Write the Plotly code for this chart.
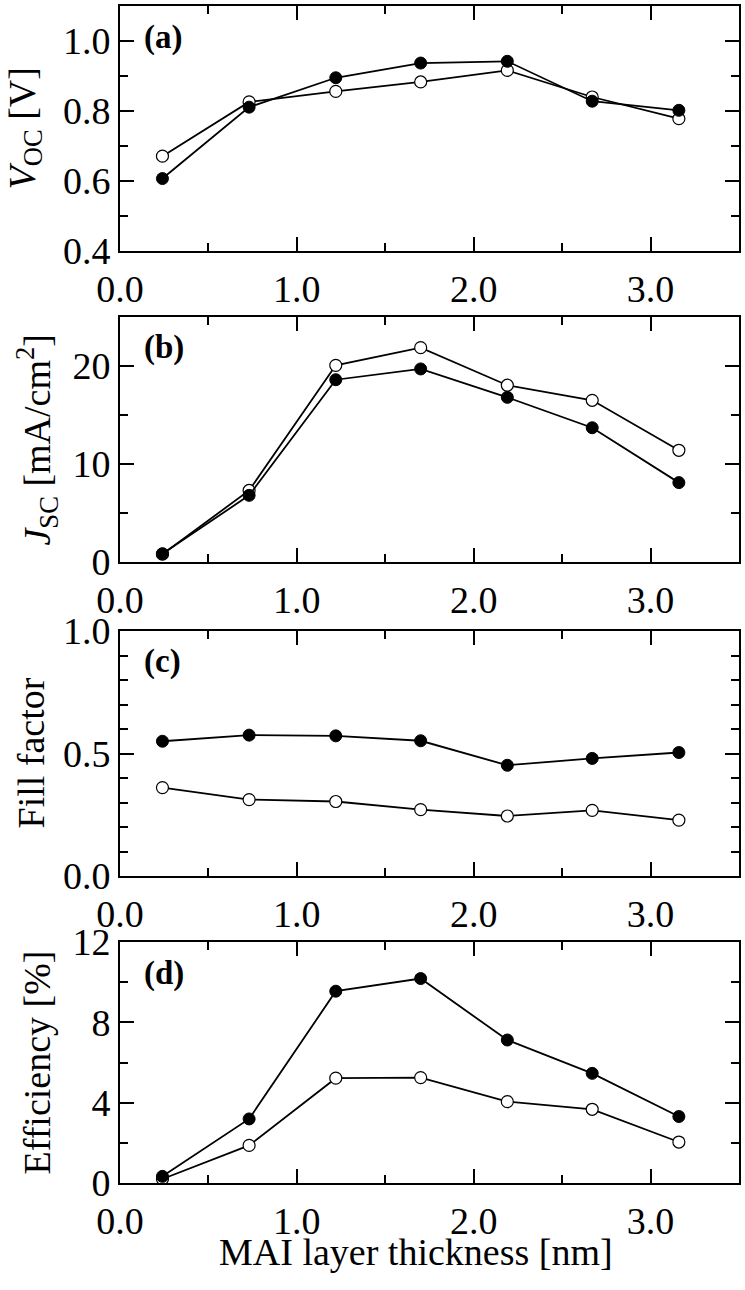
import plotly.graph_objects as go

# ---- data ----
thickness = [0.24, 0.73, 1.22, 1.70, 2.19, 2.67, 3.16]

voc_filled = [0.607, 0.811, 0.895, 0.937, 0.942, 0.828, 0.802]
voc_open = [0.671, 0.826, 0.856, 0.883, 0.916, 0.840, 0.778]

jsc_filled = [0.84, 6.8, 18.6, 19.7, 16.8, 13.7, 8.1]
jsc_open = [0.8, 7.3, 20.07, 21.87, 18.04, 16.5, 11.4]

ff_filled = [0.550, 0.575, 0.572, 0.552, 0.452, 0.480, 0.504]
ff_open = [0.361, 0.312, 0.304, 0.271, 0.245, 0.268, 0.228]

eff_filled = [0.33, 3.19, 9.55, 10.18, 7.12, 5.46, 3.31]
eff_open = [0.20, 1.87, 5.22, 5.25, 4.05, 3.67, 2.04]

panel_labels = ["(a)", "(b)", "(c)", "(d)"]
y_titles = ["<i>V</i><sub>OC</sub> [V]",
            "<i>J</i><sub>SC</sub> [mA/cm<sup>2</sup>]",
            "Fill factor",
            "Efficiency [%]"]
x_title = "MAI layer thickness [nm]"

# ---- layout geometry ----
W, H = 745, 1290
ML, MR, MT, MB = 120, 6, 6, 107
plot_h = H - MT - MB
plot_w = W - ML - MR

def py(pix):
    return (H - MB - pix) / plot_h

def px(pix):
    return (pix - ML) / plot_w

panel_px = [(6, 251), (317, 562), (631, 876), (942, 1183)]
y_ranges = [[0.4, 1.1], [0, 25], [0, 1.0], [0, 12]]
y_dticks = [0.2, 10, 0.5, 4]
y_minor = [0.1, 5, 0.1, 2]
y_tick0 = [0.4, 0, 0, 0]
y_fmt = [".1f", "d", ".1f", "d"]
ytitle_x = [25, 38, 31, 36]

FONT = "Liberation Serif"
fs = 38

series = [(voc_filled, voc_open), (jsc_filled, jsc_open),
          (ff_filled, ff_open), (eff_filled, eff_open)]

fig = go.Figure()
layout = dict(width=W, height=H,
              margin=dict(l=ML, r=MR, t=MT, b=MB, autoexpand=False),
              plot_bgcolor="white", paper_bgcolor="white", showlegend=False,
              font=dict(family=FONT, size=fs, color="black"))
annotations = []

for i in range(4):
    n = i + 1
    xa = "x" if n == 1 else f"x{n}"
    ya = "y" if n == 1 else f"y{n}"
    filled, opened = series[i]
    fig.add_trace(go.Scatter(x=thickness, y=opened, mode="lines+markers",
                             xaxis=xa, yaxis=ya,
                             line=dict(color="black", width=1.8),
                             marker=dict(symbol="circle", size=12, color="white",
                                         line=dict(color="black", width=1.2))))
    fig.add_trace(go.Scatter(x=thickness, y=filled, mode="lines+markers",
                             xaxis=xa, yaxis=ya,
                             line=dict(color="black", width=1.8),
                             marker=dict(symbol="circle", size=12, color="black",
                                         line=dict(color="black", width=1))))
    top, bot = panel_px[i]
    dom = [py(bot), py(top)]
    common = dict(showline=True, linecolor="black", linewidth=2, mirror="ticks",
                  ticks="inside", ticklen=14, tickwidth=2, tickcolor="black",
                  showgrid=False, zeroline=False, automargin=False,
                  tickfont=dict(family=FONT, size=fs, color="black"))
    layout["xaxis" if n == 1 else f"xaxis{n}"] = dict(
        common, domain=[0, 1], anchor=ya, range=[0, 3.5], tick0=0, dtick=1,
        tickformat=".1f", ticklabelstandoff=3,
        minor=dict(ticks="inside", ticklen=8, tickwidth=2, tickcolor="black", dtick=0.5))
    layout["yaxis" if n == 1 else f"yaxis{n}"] = dict(
        common, domain=dom, anchor=xa, range=y_ranges[i], tick0=y_tick0[i],
        dtick=y_dticks[i], tickformat=y_fmt[i],
        minor=dict(ticks="inside", ticklen=8, tickwidth=2, tickcolor="black",
                   dtick=y_minor[i]))
    annotations.append(dict(text=f"<b>{panel_labels[i]}</b>", xref="paper", yref="paper",
                            x=px(142), y=py(top + 31), xanchor="left", yanchor="middle",
                            showarrow=False, font=dict(family=FONT, size=33, color="black")))
    annotations.append(dict(text=y_titles[i], xref="paper", yref="paper",
                            x=px(ytitle_x[i]), y=py((top + bot) / 2), textangle=-90,
                            xanchor="center", yanchor="middle", showarrow=False,
                            font=dict(family=FONT, size=fs, color="black")))

annotations.append(dict(text=x_title, xref="paper", yref="paper",
                        x=px(416), y=py(1252), xanchor="center", yanchor="middle",
                        showarrow=False, font=dict(family=FONT, size=fs, color="black")))
layout["annotations"] = annotations
fig.update_layout(**layout)
fig.write_html("out.html", config={"displayModeBar": False},
               post_script="document.body.style.margin='0px';")
